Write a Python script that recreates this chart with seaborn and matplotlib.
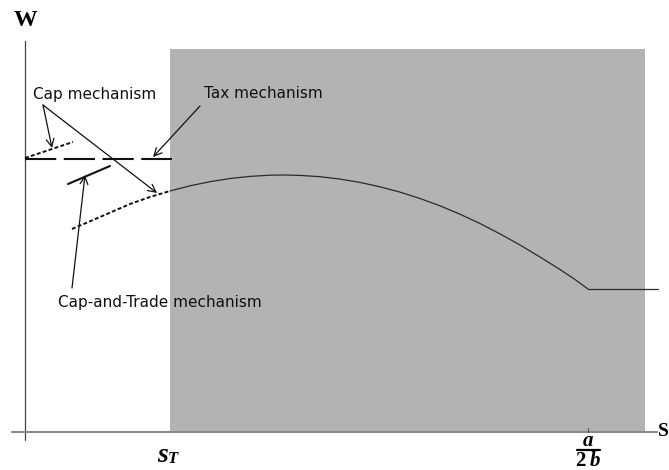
import matplotlib
matplotlib.use("Agg")
import matplotlib.pyplot as plt
import seaborn as sns
import pandas as pd

# Welfare W against emission level s
s_T = 1.45          # threshold s_T
s_peak_end = 5.63   # a / 2b
s_right = 6.20      # right edge of shaded region
W_top = 3.83        # top of shaded region

# Welfare curve for s >= s_T (solid)
curve_s = [1.45, 1.65, 1.85, 2.05, 2.25, 2.45, 2.58, 2.75, 2.95, 3.15, 3.35, 3.55,
           3.75, 3.95, 4.15, 4.35, 4.55, 4.75, 4.95, 5.15, 5.35, 5.50, 5.63]
curve_W = [2.41, 2.462, 2.503, 2.535, 2.556, 2.568, 2.57, 2.566, 2.553, 2.529, 2.496, 2.452,
           2.399, 2.335, 2.262, 2.178, 2.085, 1.981, 1.87, 1.75, 1.625, 1.525, 1.43]

# Flat part beyond a/2b
flat_s = [5.63, 6.33]
flat_W = [1.43, 1.43]

# Dotted continuation of the curve below s_T
ext_s = [0.47, 0.75, 1.05, 1.25, 1.45]
ext_W = [2.03, 2.15, 2.28, 2.35, 2.41]

# Tax mechanism level (dashed)
tax_s = [0.0, 1.47]
tax_W = [2.735, 2.735]

# Cap mechanism segment (dotted)
cap_s = [0.0, 0.48]
cap_W = [2.74, 2.90]

# Cap-and-Trade mechanism segment (solid)
ct_s = [0.43, 0.85]
ct_W = [2.48, 2.66]

sns.set_theme(style="white")
plt.rcParams["font.family"] = ["DejaVu Sans"]

fig = plt.figure(figsize=(6.69, 4.70), dpi=100)
ax = fig.add_axes([0, 0, 1, 1])

# Shaded region s > s_T
ax.fill_between([s_T, s_right], [0, 0], [W_top, W_top], color="#b3b3b3", lw=0, zorder=1)

# Axes lines
ax.plot([0, 0], [-0.08, 3.91], color="#444444", lw=0.9, zorder=2)
ax.plot([-0.13, 6.32], [0, 0], color="#888888", lw=1.5, zorder=2)
ax.plot([s_peak_end, s_peak_end], [0, 0.04], color="#555555", lw=0.8, zorder=3)

def draw(xs, ys, **kw):
    sns.lineplot(data=pd.DataFrame({"s": xs, "W": ys}), x="s", y="W", ax=ax,
                 sort=False, legend=False, **kw)

draw(curve_s, curve_W, color="#2a2a2a", lw=0.9, zorder=4)
draw(flat_s, flat_W, color="#2a2a2a", lw=0.9, zorder=4)
draw(ext_s, ext_W, color="#111111", lw=1.4, dashes=(2.0, 1.2), zorder=4)
draw(tax_s, tax_W, color="#111111", lw=1.5, dashes=(15, 3.6), zorder=4)
draw(cap_s, cap_W, color="#111111", lw=1.4, dashes=(2.0, 1.2), zorder=4)
draw(ct_s, ct_W, color="#111111", lw=1.5, zorder=4)

ax.set_xlim(-0.25, 6.44)
ax.set_ylim(-0.38, 4.32)
ax.axis("off")

arrow = dict(arrowstyle="->", color="#111111", lw=0.9, mutation_scale=14,
             shrinkA=0, shrinkB=0)
txt = dict(fontsize=11, color="#111111", zorder=6)

ax.text(0.70, 3.38, "Cap mechanism", ha="center", va="center", **txt)
ax.annotate("", xy=(0.27, 2.84), xytext=(0.18, 3.27), arrowprops=arrow, zorder=5)
ax.annotate("", xy=(1.32, 2.39), xytext=(0.18, 3.27), arrowprops=arrow, zorder=5)

ax.text(2.38, 3.39, "Tax mechanism", ha="center", va="center", **txt)
ax.annotate("", xy=(1.28, 2.75), xytext=(1.75, 3.26), arrowprops=arrow, zorder=5)

ax.text(1.35, 1.30, "Cap-and-Trade mechanism", ha="center", va="center", **txt)
ax.annotate("", xy=(0.60, 2.57), xytext=(0.47, 1.44), arrowprops=arrow, zorder=5)

# Axis labels in bold serif
serif = dict(family="Liberation Serif", fontweight="bold", color="#000000")
ax.text(0.0, 4.12, "W", ha="center", va="center", fontsize=17, **serif)
ax.text(6.33, 0.0, "S", ha="left", va="center", fontsize=14, **serif)
ax.text(1.43, -0.235, "s", ha="right", va="center", fontsize=20, style="italic", **serif)
ax.text(1.43, -0.27, "T", ha="left", va="center", fontsize=12, style="italic", **serif)

# a / 2b fraction
ax.text(s_peak_end, -0.085, "a", ha="center", va="center", fontsize=15, style="italic", **serif)
ax.plot([s_peak_end - 0.11, s_peak_end + 0.12], [-0.18, -0.18], color="#000000", lw=1.6)
ax.text(s_peak_end - 0.02, -0.295, "2", ha="right", va="center", fontsize=15, **serif)
ax.text(s_peak_end + 0.02, -0.295, "b", ha="left", va="center", fontsize=15, style="italic", **serif)

fig.savefig("out.png", dpi=100)
